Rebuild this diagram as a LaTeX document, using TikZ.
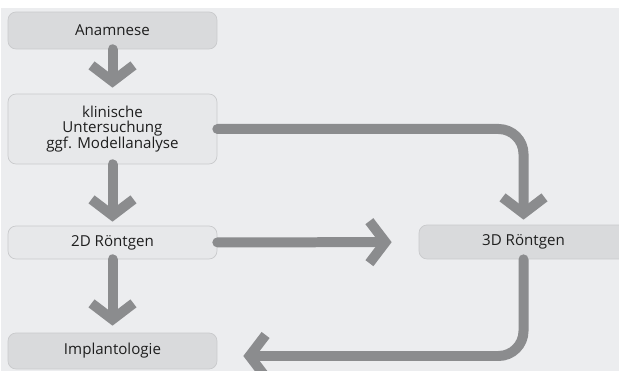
\documentclass[tikz,border=0pt]{standalone}
\usepackage{fontspec}
\setmainfont{Open Sans}
\usetikzlibrary{arrows.meta}
\definecolor{bggrey}{HTML}{ECEDEF}
\definecolor{boxdark}{HTML}{D9DADC}
\definecolor{boxlight}{HTML}{E7E8EA}
\definecolor{boxline}{HTML}{C9CACC}
\definecolor{arrowgrey}{HTML}{8B8C8E}
\definecolor{textgrey}{HTML}{1E1E1E}
\begin{document}
\begin{tikzpicture}[x=0.02cm, y=-0.02cm,
  box/.style={draw=boxline, rounded corners=0.16cm, minimum width=4.18cm, align=center, text=textgrey, font=\fontsize{8.6}{8.9}\selectfont},
  darkbox/.style={box, fill=boxdark},
  lightbox/.style={box, fill=boxlight},
  flow/.style={line width=0.2cm, draw=arrowgrey, line cap=round, -{Straight Barb[length=0.32cm, width=0.84cm]}}]
\useasboundingbox (0,0) rectangle (619,371);
\fill[bggrey] (1,8) rectangle (619,371);
\node[darkbox, minimum height=0.74cm] (A) at (112.5,30.5) {Anamnese};
\node[lightbox, minimum height=1.4cm] (K) at (112.5,129) {klinische\\Untersuchung\\ggf. Modellanalyse};
\node[lightbox, minimum height=0.66cm] (R2) at (112.5,242.5) {2D Röntgen};
\node[darkbox, minimum height=0.72cm] (I) at (112.5,351) {Implantologie};
\node[darkbox, minimum height=0.68cm] (R3) at (523.5,242) {3D Röntgen};
\draw[flow, shorten >=0.12cm] (A) -- (K);
\draw[flow, shorten >=0.08cm] (K) -- (R2);
\draw[flow, shorten >=0.14cm] (R2) -- (I);
\draw[flow, shorten >=0.54cm] (R2) -- (R3);
\draw[flow, rounded corners=0.5cm, shorten >=0.1cm] (K.east) -| (R3.north);
\draw[flow, rounded corners=0.5cm, shorten >=0.52cm] (R3.south) |- ([yshift=-0.1cm]I.east);
\end{tikzpicture}
\end{document}
